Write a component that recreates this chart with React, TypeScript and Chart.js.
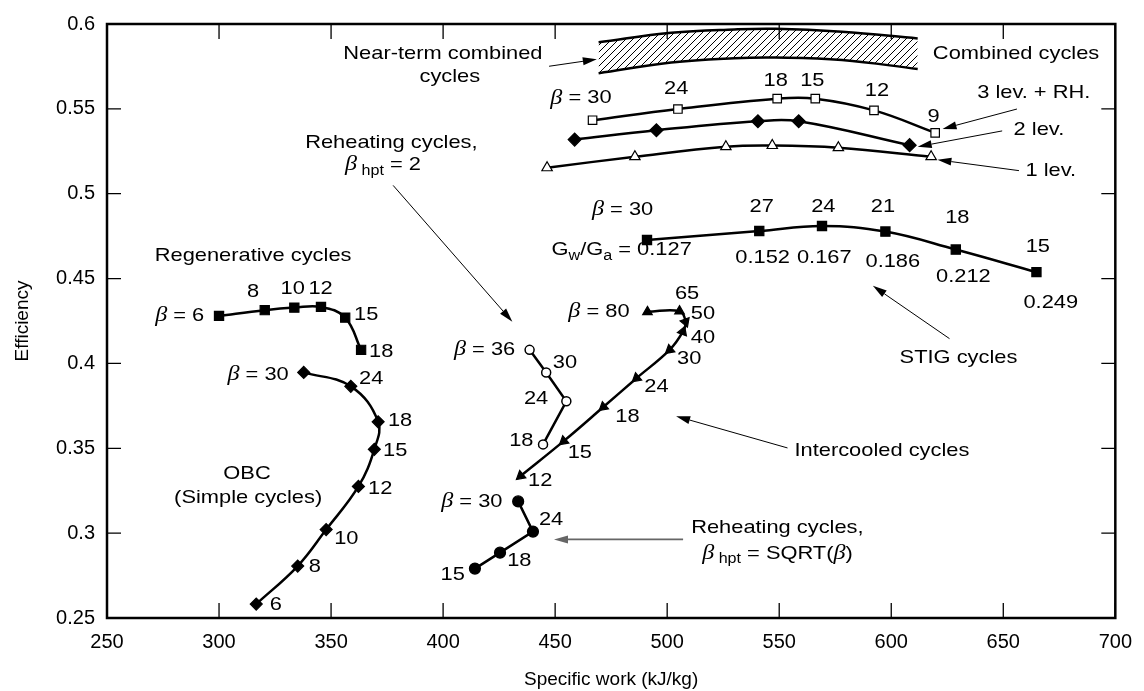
import React, { useEffect, useRef } from 'react';
import { Chart, registerables } from 'chart.js';

Chart.register(...registerables);

// ---------- data ----------
const regenX = [300, 320.4, 333.6, 345.5, 356.3, 363.4];
const regenY = [0.428, 0.4314, 0.4329, 0.4333, 0.427, 0.408];

const obcX = [337.8, 358.8, 371.0, 369.3, 362.2, 347.8, 335.1, 316.6];
const obcY = [0.3947, 0.3865, 0.3656, 0.3494, 0.3275, 0.3021, 0.2806, 0.2582];

const reheat2X = [438.6, 446.0, 455.0, 444.6];
const reheat2Y = [0.408, 0.3947, 0.3777, 0.3523];

const interX = [491.2, 505.5, 508.2, 507.0, 501.1, 486.3, 471.5, 453.8, 434.6];
const interY = [0.4304, 0.4308, 0.4245, 0.4187, 0.408, 0.3913, 0.3743, 0.3542, 0.3337];
const interRot = [0, 0, 160, 20, 230, 230, 230, 230, 230];

const sqrtX = [433.5, 440.1, 425.4, 414.2];
const sqrtY = [0.3187, 0.3009, 0.2885, 0.2791];

const lev3X = [466.7, 504.8, 549.1, 566.1, 592.3, 619.6];
const lev3Y = [0.5433, 0.5499, 0.556, 0.556, 0.5491, 0.5359];

const lev2X = [458.7, 495.2, 540.5, 558.7, 608.2];
const lev2Y = [0.5319, 0.5374, 0.5427, 0.5427, 0.5286];

const lev1X = [446.4, 485.6, 526.2, 546.9, 576.4, 617.8];
const lev1Y = [0.5153, 0.5218, 0.5277, 0.5284, 0.5271, 0.5218];

const stigX = [491.0, 541.1, 569.1, 597.4, 628.8, 664.8];
const stigY = [0.4727, 0.478, 0.481, 0.4777, 0.4671, 0.4538];

const bandX = [469.4, 501.8, 530, 548.3, 578, 611.8];
const bandTop = [0.5892, 0.5948, 0.5968, 0.5972, 0.5954, 0.5915];
const bandBottom = [0.571, 0.5773, 0.5798, 0.5802, 0.5788, 0.5735];

// [text, x, y, align]
const labels: [string, number, number, string?][] = [
  ['β = 6', 293.4, 0.428, 'right'],
  ['8', 315.2, 0.4421],
  ['10', 332.9, 0.4439],
  ['12', 345.3, 0.4439],
  ['15', 365.7, 0.4287],
  ['18', 372.4, 0.407],
  ['Regenerative cycles', 315.2, 0.4632],
  ['β = 30', 331.1, 0.3935, 'right'],
  ['24', 367.9, 0.3911],
  ['18', 380.8, 0.366],
  ['15', 378.6, 0.3484],
  ['12', 371.9, 0.3261],
  ['10', 356.8, 0.2968],
  ['8', 342.7, 0.2804],
  ['6', 325.4, 0.2576],
  ['OBC', 312.5, 0.3349],
  ['(Simple cycles)', 313.0, 0.3209],
  ['β = 36', 432.2, 0.4081, 'right'],
  ['30', 454.4, 0.4005],
  ['24', 441.5, 0.3789],
  ['18', 434.9, 0.3543],
  ['Reheating cycles,', 415.4, 0.53, 'right'],
  ['β_{ hpt} = 2', 390.1, 0.5171, 'right'],
  ['β = 80', 483.2, 0.4304, 'right'],
  ['65', 508.9, 0.441],
  ['50', 516.0, 0.4293],
  ['40', 516.0, 0.4152],
  ['30', 509.8, 0.4029],
  ['24', 495.2, 0.386],
  ['18', 482.3, 0.3684],
  ['15', 461.0, 0.3473],
  ['12', 443.3, 0.3309],
  ['Intercooled cycles', 556.8, 0.3484, 'left'],
  ['β = 30', 426.5, 0.3185, 'right'],
  ['24', 448.2, 0.308],
  ['18', 434.0, 0.284],
  ['15', 404.3, 0.2757],
  ['Reheating cycles,', 510.7, 0.3033, 'left'],
  ['β_{ hpt} = SQRT(β)', 515.6, 0.288, 'left'],
  ['β = 30', 480.1, 0.4907],
  ['G_{w}/G_{a} = 0.127', 479.7, 0.4667],
  ['27', 542.2, 0.4925],
  ['24', 569.7, 0.4925],
  ['21', 596.3, 0.4925],
  ['18', 629.5, 0.486],
  ['15', 665.4, 0.4685],
  ['0.152', 542.6, 0.462],
  ['0.167', 570.1, 0.462],
  ['0.186', 600.7, 0.4597],
  ['0.212', 632.2, 0.4509],
  ['0.249', 671.2, 0.4357],
  ['STIG cycles', 630.0, 0.4035],
  ['β = 30', 475.2, 0.5564, 'right'],
  ['24', 504.0, 0.5616],
  ['18', 548.4, 0.5663],
  ['15', 564.8, 0.5663],
  ['12', 593.6, 0.5605],
  ['9', 618.9, 0.5452],
  ['Combined cycles', 655.7, 0.5827],
  ['3 lev. + RH.', 663.6, 0.5593],
  ['2 lev.', 665.9, 0.5376],
  ['1 lev.', 671.2, 0.5136],
  ['Near-term combined', 399.9, 0.5827],
  ['cycles', 403.0, 0.5692],
];

// [x1, y1, x2 (head), y2 (head), color]
const arrows: [number, number, number, number, string?][] = [
  [377.7, 0.5049, 430.9, 0.4246],
  [553.7, 0.3502, 504.0, 0.3689],
  [507.1, 0.2963, 449.5, 0.2963, '#666'],
  [626.0, 0.4146, 591.8, 0.4457],
  [656.1, 0.5499, 622.9, 0.5382],
  [649.5, 0.537, 611.8, 0.5277],
  [657.0, 0.5136, 620.6, 0.52],
  [447.3, 0.5751, 468.6, 0.5792],
];

const FONT = '"Liberation Sans", Arial, Helvetica, sans-serif';
const SERIF = '"Liberation Serif", "Times New Roman", serif';
const SX = 1.15;
const BASE = 19;

const pts = (xs: number[], ys: number[]) => xs.map((x, i) => ({ x, y: ys[i] }));

function makeHatch(): CanvasPattern | string {
  const c = document.createElement('canvas');
  c.width = 7;
  c.height = 7;
  const g = c.getContext('2d');
  if (!g) return '#888';
  g.strokeStyle = '#000';
  g.lineWidth = 1;
  g.beginPath();
  g.moveTo(0, 7); g.lineTo(7, 0);
  g.moveTo(-1, 1); g.lineTo(1, -1);
  g.moveTo(6, 8); g.lineTo(8, 6);
  g.stroke();
  return g.createPattern(c, 'repeat') || '#888';
}

type Seg = { t: string; kind: 'n' | 'b' | 's' };
function parse(text: string): Seg[] {
  const out: Seg[] = [];
  const re = /_\{([^}]*)\}|β|[^_β]+/g;
  let m: RegExpExecArray | null;
  while ((m = re.exec(text))) {
    if (m[1] !== undefined) out.push({ t: m[1], kind: 's' });
    else if (m[0] === 'β') out.push({ t: 'β', kind: 'b' });
    else out.push({ t: m[0], kind: 'n' });
  }
  return out;
}
function segFont(k: string) {
  if (k === 'b') return `italic 21px ${SERIF}`;
  if (k === 's') return `14px ${FONT}`;
  return `${BASE}px ${FONT}`;
}

function drawRich(ctx: CanvasRenderingContext2D, text: string, x: number, y: number, align: string) {
  const segs = parse(text);
  let w = 0;
  const widths = segs.map((s) => {
    ctx.font = segFont(s.kind);
    const ww = ctx.measureText(s.t).width;
    w += ww;
    return ww;
  });
  const total = w * SX;
  let sx = x;
  if (align === 'center') sx = x - total / 2;
  else if (align === 'right') sx = x - total;
  ctx.save();
  ctx.translate(sx, y);
  ctx.scale(SX, 1);
  ctx.fillStyle = '#000';
  ctx.textBaseline = 'middle';
  ctx.textAlign = 'left';
  let cx = 0;
  segs.forEach((s, i) => {
    ctx.font = segFont(s.kind);
    ctx.fillText(s.t, cx, s.kind === 's' ? 6 : 0);
    cx += widths[i];
  });
  ctx.restore();
}

const annotationPlugin = {
  id: 'annotations',
  afterDatasetsDraw(chart: any) {
    const { ctx, scales } = chart;
    const xs = scales.x;
    const ys = scales.y;
    ctx.save();
    labels.forEach(([t, x, y, a]) => {
      drawRich(ctx, t, xs.getPixelForValue(x), ys.getPixelForValue(y), a || 'center');
    });
    arrows.forEach(([x1, y1, x2, y2, col]) => {
      const p1x = xs.getPixelForValue(x1), p1y = ys.getPixelForValue(y1);
      const p2x = xs.getPixelForValue(x2), p2y = ys.getPixelForValue(y2);
      const ang = Math.atan2(p2y - p1y, p2x - p1x);
      const L = 14, H = 4;
      const bx = p2x - L * Math.cos(ang), by = p2y - L * Math.sin(ang);
      ctx.strokeStyle = col || '#000';
      ctx.fillStyle = col || '#000';
      ctx.lineWidth = col ? 1.6 : 1;
      ctx.beginPath();
      ctx.moveTo(p1x, p1y);
      ctx.lineTo(bx, by);
      ctx.stroke();
      ctx.beginPath();
      ctx.moveTo(p2x, p2y);
      ctx.lineTo(bx + H * Math.sin(ang), by - H * Math.cos(ang));
      ctx.lineTo(bx - H * Math.sin(ang), by + H * Math.cos(ang));
      ctx.closePath();
      ctx.fill();
    });
    ctx.restore();
  },
};

const framePlugin = {
  id: 'frame',
  afterDraw(chart: any) {
    const { ctx, chartArea, scales } = chart;
    const { left, right, top, bottom } = chartArea;
    ctx.save();
    ctx.strokeStyle = '#000';
    ctx.lineWidth = 1.3;
    ctx.beginPath();
    scales.x.ticks.forEach((t: any) => {
      const px = scales.x.getPixelForValue(t.value);
      ctx.moveTo(px, bottom);
      ctx.lineTo(px, bottom - 15);
      ctx.moveTo(px, top);
      ctx.lineTo(px, top + 15);
    });
    scales.y.ticks.forEach((t: any) => {
      const py = scales.y.getPixelForValue(t.value);
      ctx.moveTo(left, py);
      ctx.lineTo(left + 14, py);
      ctx.moveTo(right, py);
      ctx.lineTo(right - 14, py);
    });
    ctx.stroke();
    ctx.lineWidth = 2.5;
    ctx.strokeRect(left, top, right - left, bottom - top);
    ctx.restore();
  },
};

function series(xs: number[], ys: number[], style: string, radius: number, fill: string, tension: number, extra: any = {}) {
  return {
    data: pts(xs, ys),
    showLine: true,
    borderColor: '#000',
    borderWidth: 2.5,
    tension,
    pointStyle: style,
    pointRadius: radius,
    pointBackgroundColor: fill,
    pointBorderColor: '#000',
    pointBorderWidth: 1.2,
    ...extra,
  };
}

export default function App() {
  const ref = useRef<HTMLCanvasElement>(null);
  useEffect(() => {
    const canvas = ref.current;
    if (!canvas) return;
    const hatch = makeHatch();
    const chart = new Chart(canvas, {
      type: 'scatter',
      data: {
        datasets: [
          {
            type: 'line',
            data: pts(bandX, bandTop),
            borderColor: '#000',
            borderWidth: 2.5,
            pointRadius: 0,
            tension: 0.4,
            fill: false,
          } as any,
          {
            type: 'line',
            data: pts(bandX, bandBottom),
            borderColor: '#000',
            borderWidth: 2.5,
            pointRadius: 0,
            tension: 0.4,
            fill: '-1',
            backgroundColor: hatch,
          } as any,
          series(regenX, regenY, 'rect', 6.5, '#000', 0.4),
          series(obcX, obcY, 'rectRot', 6, '#000', 0.4),
          series(reheat2X, reheat2Y, 'circle', 4.5, '#fff', 0, { pointBorderWidth: 1.5 }),
          series(interX, interY, 'triangle', 5.5, '#000', 0.4, { pointRotation: interRot }),
          series(sqrtX, sqrtY, 'circle', 5.5, '#000', 0),
          series(lev3X, lev3Y, 'rect', 6, '#fff', 0.4),
          series(lev2X, lev2Y, 'rectRot', 6.5, '#000', 0.4),
          series(lev1X, lev1Y, 'triangle', 6, '#fff', 0.4),
          series(stigX, stigY, 'rect', 6.5, '#000', 0.4),
        ] as any,
      },
      options: {
        animation: false,
        responsive: false,
        layout: { padding: { left: 0, right: 22, top: 20.5, bottom: 0 } },
        plugins: { legend: { display: false }, tooltip: { enabled: false } },
        scales: {
          x: {
            type: 'linear',
            min: 250,
            max: 700,
            afterFit: (s: any) => { s.height = 73; },
            grid: { display: false, drawTicks: false },
            border: { display: false },
            ticks: {
              stepSize: 50,
              padding: 12,
              color: '#000',
              font: { family: FONT, size: 20 },
              maxRotation: 0,
            },
            title: {
              display: true,
              text: 'Specific work (kJ/kg)',
              color: '#000',
              font: { family: FONT, size: 19 },
              padding: { top: 0, bottom: 0 },
            },
          },
          y: {
            type: 'linear',
            min: 0.25,
            max: 0.6,
            afterFit: (s: any) => { s.width = 107; },
            grid: { display: false, drawTicks: false },
            border: { display: false },
            ticks: {
              stepSize: 0.05,
              padding: 12,
              color: '#000',
              font: { family: FONT, size: 20 },
              callback: (v: any) => String(Math.round(Number(v) * 100) / 100),
            },
            title: {
              display: true,
              text: 'Efficiency',
              color: '#000',
              font: { family: FONT, size: 19 },
              padding: { top: 11, bottom: 0 },
            },
          },
        },
      } as any,
      plugins: [annotationPlugin, framePlugin],
    });
    return () => chart.destroy();
  }, []);
  return (
    <div style={{ position: 'fixed', left: 0, top: 0, width: 1144, height: 691, background: '#fff' }}>
      <canvas ref={ref} width={1144} height={691} style={{ display: 'block' }} />
    </div>
  );
}
